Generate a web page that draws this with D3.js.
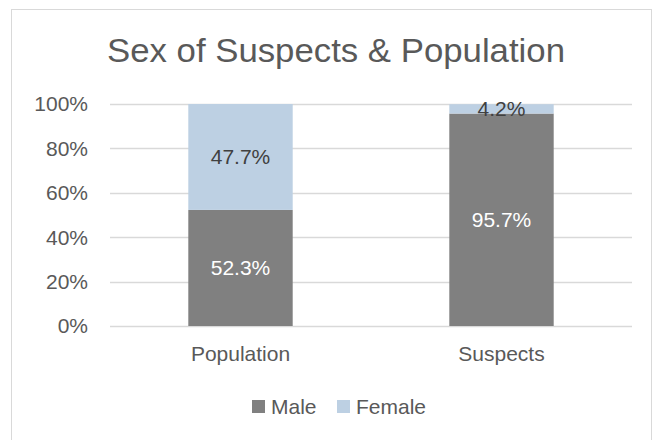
<!DOCTYPE html>
<html><head><meta charset="utf-8">
<script src="https://cdn.jsdelivr.net/npm/d3@7"></script>
<style>body{margin:0;background:#fff}svg{display:block}</style>
</head><body>
<script>
const categories = ["Population", "Suspects"];
const seriesNames = ["Male", "Female"];
const maleValues = [52.3, 95.7];
const femaleValues = [47.7, 4.2];
const yTicks = [0, 20, 40, 60, 80, 100];
const colors = ["#808080", "#bdd0e3"];
const labelColors = ["#ffffff", "#404040"];

const W = 662, H = 440;
const svg = d3.select("body").append("svg").attr("width", W).attr("height", H);
svg.append("rect").attr("x", 11.5).attr("y", 9.5).attr("width", 640).attr("height", 440)
  .attr("fill", "#fff").attr("stroke", "#d9d9d9");

const font = "Liberation Sans, Arial, sans-serif";
const fs = 21;
const m = {left: 110, right: 632, top: 104, bottom: 326};
const x = d3.scaleBand().domain(categories).range([m.left, m.right]).paddingInner(0.6).paddingOuter(0.3);
const y = d3.scaleLinear().domain([0, 100]).range([m.bottom, m.top]);

svg.append("text").attr("x", 336).attr("y", 62).attr("text-anchor", "middle")
  .attr("font-family", font).attr("font-size", 34).attr("fill", "#595959")
  .attr("textLength", 458).attr("lengthAdjust", "spacingAndGlyphs")
  .text("Sex of Suspects & Population");

const grid = svg.append("g");
yTicks.forEach(t => {
  grid.append("line").attr("x1", m.left).attr("x2", m.right)
    .attr("y1", Math.round(y(t)) + 0.5).attr("y2", Math.round(y(t)) + 0.5)
    .attr("stroke", "#d9d9d9").attr("stroke-width", 1.5);
  grid.append("text").attr("x", 88).attr("y", y(t)).attr("dy", "0.35em")
    .attr("text-anchor", "end").attr("font-family", font).attr("font-size", fs)
    .attr("fill", "#595959").text(t + "%");
});

const data = categories.map((c, i) => ({cat: c, Male: maleValues[i], Female: femaleValues[i]}));
const stack = d3.stack().keys(seriesNames)(data);

stack.forEach((s, si) => {
  const g = svg.append("g");
  g.selectAll("rect").data(s).join("rect")
    .attr("x", d => x(d.data.cat)).attr("width", x.bandwidth())
    .attr("y", d => y(d[1])).attr("height", d => y(d[0]) - y(d[1]))
    .attr("fill", colors[si]);
  g.selectAll("text").data(s).join("text")
    .attr("x", d => x(d.data.cat) + x.bandwidth() / 2)
    .attr("y", d => y((d[0] + d[1]) / 2)).attr("dy", "0.35em")
    .attr("text-anchor", "middle").attr("font-family", font).attr("font-size", fs)
    .attr("fill", labelColors[si])
    .text(d => (d[1] - d[0]).toFixed(1) + "%");
});

categories.forEach(c => {
  svg.append("text").attr("x", x(c) + x.bandwidth() / 2).attr("y", 361)
    .attr("text-anchor", "middle").attr("font-family", font).attr("font-size", fs)
    .attr("fill", "#595959").text(c);
});

const legend = svg.append("g");
const lx = [252, 337];
seriesNames.forEach((n, i) => {
  legend.append("rect").attr("x", lx[i]).attr("y", 400).attr("width", 13).attr("height", 13).attr("fill", colors[i]);
  legend.append("text").attr("x", lx[i] + 19).attr("y", 407).attr("dy", "0.35em")
    .attr("font-family", font).attr("font-size", fs).attr("fill", "#595959").text(n);
});
</script>
</body></html>
